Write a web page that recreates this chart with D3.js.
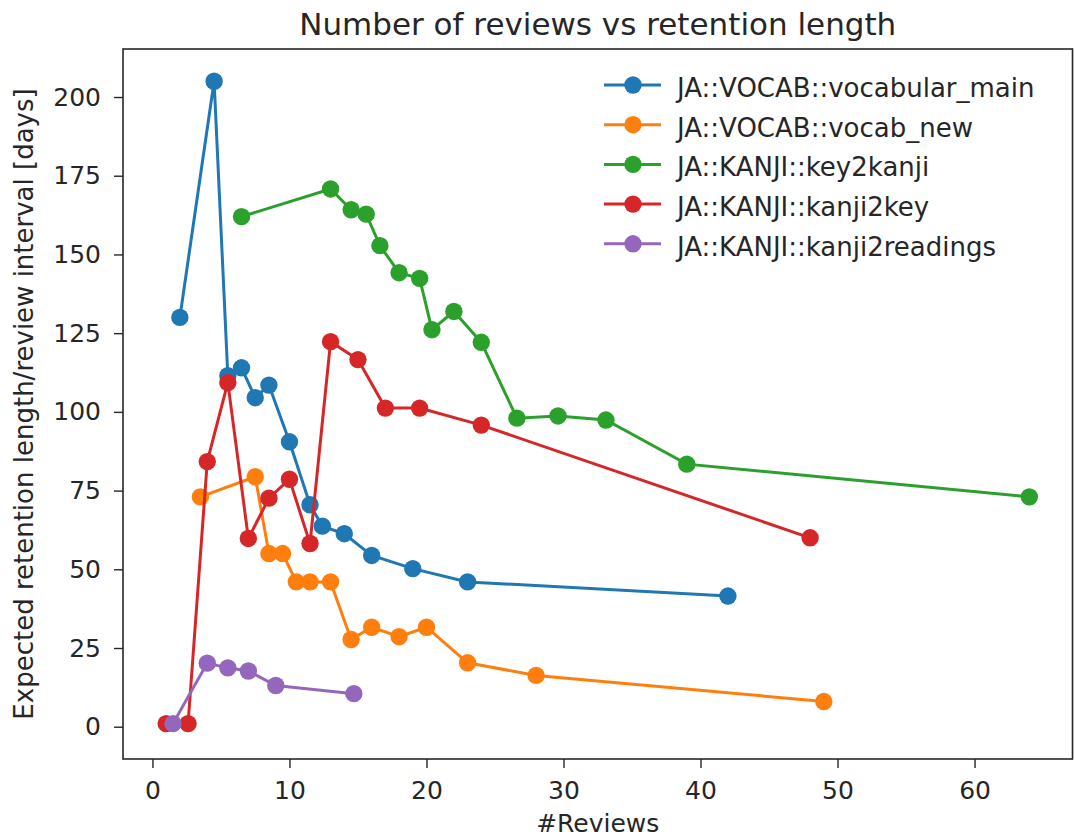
<!DOCTYPE html>
<html>
<head>
<meta charset="utf-8">
<script src="https://cdn.jsdelivr.net/npm/d3@7"></script>
<style>
  body { margin: 0; background: #fff; }
  text { font-family: "DejaVu Sans", sans-serif; fill: #262626; }
</style>
</head>
<body>
<div id="chart"></div>
<script>
// review counts vs expected retention length, one line per deck

const deckNames = [
    "JA::VOCAB::vocabular_main",
    "JA::VOCAB::vocab_new",
    "JA::KANJI::key2kanji",
    "JA::KANJI::kanji2key",
    "JA::KANJI::kanji2readings"
];
const deckColors = ["#1f77b4", "#ff7f0e", "#2ca02c", "#d62728", "#9467bd"];

const vocabMainX = [2, 4.5, 5.5, 6.5, 7.5, 8.5, 10, 11.5, 12.4, 14, 16, 19, 23, 42];
const vocabMainY = [130, 205, 111.5, 114, 104.5, 108.5, 90.5, 70.5, 63.7, 61.3, 54.4, 50.2, 46, 41.5];

const vocabNewX = [3.5, 7.5, 8.5, 9.5, 10.5, 11.5, 13, 14.5, 16, 18, 20, 23, 28, 49];
const vocabNewY = [73, 79.4, 55, 55, 46, 46, 46, 27.7, 31.6, 28.6, 31.6, 20.3, 16.3, 8];

const key2kanjiX = [6.5, 13, 14.5, 15.6, 16.6, 18, 19.5, 20.4, 22, 24, 26.6, 29.6, 33.1, 39, 64];
const key2kanjiY = [162, 170.8, 164.2, 162.8, 152.8, 144.2, 142.4, 126.1, 131.9, 122.1, 98, 98.7, 97.4, 83.4, 73];

const kanji2keyX = [1, 2.6, 4, 5.5, 7, 8.5, 10, 11.5, 13, 15, 17, 19.5, 24, 48];
const kanji2keyY = [1, 1, 84.2, 109.3, 59.8, 72.6, 78.6, 58.2, 122.3, 116.6, 101.2, 101.2, 95.8, 60];

const kanji2readX = [1.5, 4, 5.5, 7, 9, 14.7];
const kanji2readY = [1, 20.2, 18.7, 17.7, 13.1, 10.5];

const xTicks = [0, 10, 20, 30, 40, 50, 60];
const yTicks = [0, 25, 50, 75, 100, 125, 150, 175, 200];

const allX = [vocabMainX, vocabNewX, key2kanjiX, kanji2keyX, kanji2readX];
const allY = [vocabMainY, vocabNewY, key2kanjiY, kanji2keyY, kanji2readY];

var series = deckNames.map(function(name, i) {
    return {
        name: name,
        color: deckColors[i],
        points: allX[i].map(function(x, j) { return {x: x, y: allY[i][j]}; })
    };
});

var width = 1074, height = 840;
var margin = {top: 49, right: 1.5, bottom: 81, left: 123};

// matplotlib style 5% padding around the data
var xMin = d3.min(allX, a => d3.min(a)), xMax = d3.max(allX, a => d3.max(a));
var yMin = d3.min(allY, a => d3.min(a)), yMax = d3.max(allY, a => d3.max(a));
var xPad = (xMax - xMin) * 0.05;
var yPad = (Math.max(yMax, 0) - Math.min(yMin, 0)) * 0.05;

const xScale = d3.scaleLinear()
    .domain([xMin - xPad, xMax + xPad])
    .range([margin.left, width - margin.right]);
const yScale = d3.scaleLinear()
    .domain([Math.min(yMin, 0) - yPad, yMax + yPad])
    .range([height - margin.bottom, margin.top]);

const svg = d3.select("#chart")
    .append("svg")
    .attr("width", width)
    .attr("height", height);

// axes
svg.append("g")
    .attr("transform", `translate(0, ${height - margin.bottom})`)
    .call(d3.axisBottom(xScale).tickValues(xTicks).tickSize(9).tickPadding(13).tickSizeOuter(0))
    .call(g => g.select(".domain").remove())
    .call(g => g.selectAll("line").attr("stroke", "#262626").attr("stroke-width", 1.4))
    .call(g => g.selectAll("text").style("font-size", "25px").style("font-family", "DejaVu Sans").attr("fill", "#262626"));

svg.append("g")
    .attr("transform", `translate(${margin.left}, 0)`)
    .call(d3.axisLeft(yScale).tickValues(yTicks).tickSize(9).tickPadding(13).tickSizeOuter(0))
    .call(g => g.select(".domain").remove())
    .call(g => g.selectAll("line").attr("stroke", "#262626").attr("stroke-width", 1.4))
    .call(g => g.selectAll("text").style("font-size", "25px").style("font-family", "DejaVu Sans").attr("fill", "#262626"));

// frame
svg.append("rect")
    .attr("x", margin.left)
    .attr("y", margin.top)
    .attr("width", width - margin.left - margin.right)
    .attr("height", height - margin.top - margin.bottom)
    .attr("fill", "none")
    .attr("stroke", "#262626")
    .attr("stroke-width", 1.6);

var line = d3.line()
    .x(d => xScale(d.x))
    .y(d => yScale(d.y));

series.forEach(function(s) {
    var g = svg.append("g");
    g.append("path")
        .datum(s.points)
        .attr("d", line)
        .attr("fill", "none")
        .attr("stroke", s.color)
        .attr("stroke-width", 3);
    g.selectAll("circle")
        .data(s.points)
        .enter()
        .append("circle")
            .attr("cx", d => xScale(d.x))
            .attr("cy", d => yScale(d.y))
            .attr("r", 8.7)
            .attr("fill", s.color);
});

// legend
var legend = svg.append("g").attr("transform", "translate(604, 85)");
series.forEach(function(s, i) {
    var row = legend.append("g").attr("transform", `translate(0, ${i * 39.7})`);
    row.append("line")
        .attr("x1", 0).attr("x2", 57)
        .attr("y1", 0).attr("y2", 0)
        .attr("stroke", s.color)
        .attr("stroke-width", 3);
    row.append("circle")
        .attr("cx", 29).attr("cy", 0).attr("r", 8.7)
        .attr("fill", s.color);
    row.append("text")
        .attr("x", 73).attr("y", 12)
        .style("font-size", "26px")
        .text(s.name);
});

// titles
svg.append("text")
    .attr("x", (margin.left + width - margin.right) / 2)
    .attr("y", 35)
    .attr("text-anchor", "middle")
    .style("font-size", "31px")
    .text("Number of reviews vs retention length");

svg.append("text")
    .attr("x", (margin.left + width - margin.right) / 2)
    .attr("y", 832)
    .attr("text-anchor", "middle")
    .style("font-size", "25px")
    .text("#Reviews");

svg.append("text")
    .attr("transform", `translate(33, ${(margin.top + height - margin.bottom) / 2}) rotate(-90)`)
    .attr("text-anchor", "middle")
    .style("font-size", "26px")
    .text("Expected retention length/review interval [days]");
</script>
</body>
</html>
